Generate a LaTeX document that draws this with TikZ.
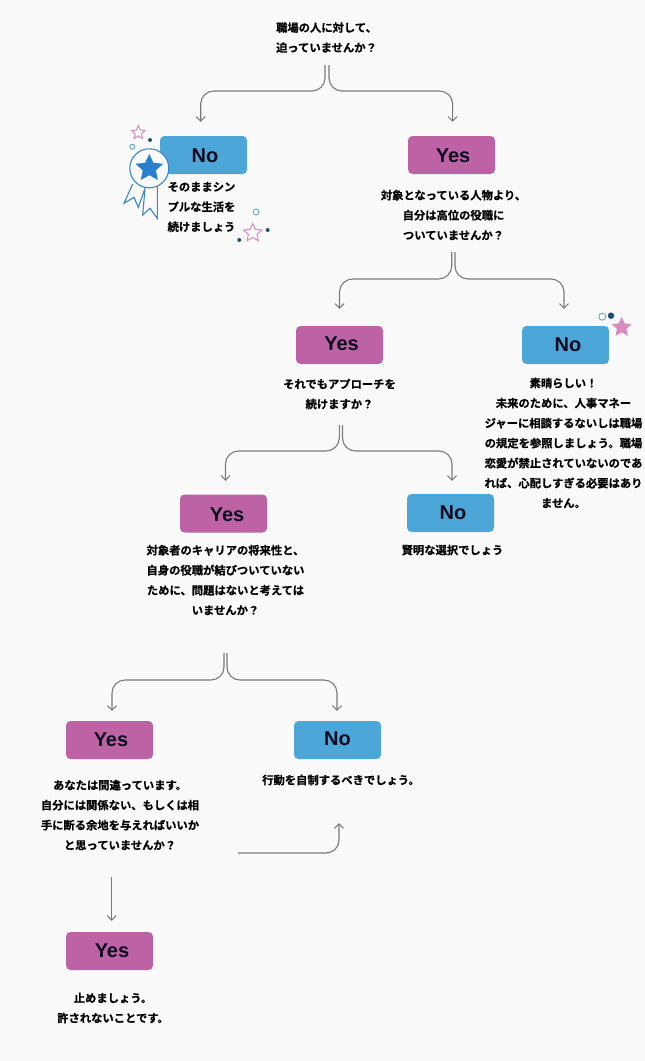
\documentclass[tikz,border=0pt]{standalone}
\usepackage{fontspec}
\setmainfont{Liberation Sans}
\newfontfamily\cjkfont{Noto Sans CJK JP}[BoldFont={Noto Sans CJK JP Bold},BoldFeatures={FakeBold=0.5}]
\usetikzlibrary{arrows.meta,shapes.geometric}
\definecolor{bgcol}{HTML}{FAFAFA}
\definecolor{noblue}{HTML}{4DA6D8}
\definecolor{yespink}{HTML}{BD62A5}
\definecolor{inkdark}{HTML}{0B0B1E}
\definecolor{linegray}{HTML}{7A7A7A}
\definecolor{medalblue}{HTML}{3A86C4}
\definecolor{starblue}{HTML}{2A80CC}
\definecolor{decopink}{HTML}{D98CC0}
\definecolor{dotdark}{HTML}{1F4F72}
\definecolor{ringblue}{HTML}{5FA8CC}
\tikzset{
  x=1pt,y=-1pt,
  answerbox/.style={rectangle,rounded corners=4.5pt,minimum width=87pt,minimum height=38pt,inner sep=0pt},
  nobox/.style={answerbox,fill=noblue},
  yesbox/.style={answerbox,fill=yespink},
  answerlabel/.style={inner sep=0pt,text=inkdark,font=\fontsize{20}{22}\selectfont\bfseries},
  jptext/.style={align=center,inner sep=0pt,text=black,font=\cjkfont\bfseries\fontsize{11.3}{20}\selectfont},
  flow/.style={draw=linegray,line width=1.1pt,rounded corners=13pt,-{Straight Barb[length=4.5pt,width=9pt,line width=1pt]}},
  ribbon/.style={draw=medalblue,line width=1.1pt,line join=miter,fill=bgcol},
  starshape/.style={star,star points=5,star point ratio=2.1,inner sep=0pt,outer sep=0pt},
  ring/.style={circle,draw=ringblue,line width=.9pt,inner sep=0pt},
  dotmark/.style={circle,fill=dotdark,inner sep=0pt,minimum size=4pt},
}
\begin{document}
\begin{tikzpicture}
\useasboundingbox[fill=bgcol] (0,0) rectangle (645,1061);

% answer boxes
\node[nobox]  (no1)  at (203.5,155) {};
\node[yesbox] (yes1) at (451.5,155) {};
\node[yesbox] (yes2) at (339.5,345) {};
\node[nobox]  (no2)  at (565.5,345) {};
\node[yesbox] (yes3) at (223.5,513.5) {};
\node[nobox]  (no3)  at (450.5,513) {};
\node[yesbox] (yes4) at (109.5,740) {};
\node[nobox]  (no4)  at (337.5,740) {};
\node[yesbox] (yes5) at (109.5,951) {};

% box labels
\node[answerlabel] (lno1)  at (205,156) {No};
\node[answerlabel] (lyes1) at (453,156) {Yes};
\node[answerlabel] (lyes2) at (341.5,344) {Yes};
\node[answerlabel] (lno2)  at (568,345) {No};
\node[answerlabel] (lyes3) at (227,515) {Yes};
\node[answerlabel] (lno3)  at (453,513) {No};
\node[answerlabel] (lyes4) at (111,740) {Yes};
\node[answerlabel] (lno4)  at (337.5,739) {No};
\node[answerlabel] (lyes5) at (112,951) {Yes};

% texts
\node[jptext] (q1) at (326.5,37.5) {職場の人に対して、\\迫っていませんか？};
\node[jptext] (t1) at (201.5,207) {そのままシン\\プルな生活を\\続けましょう};
\node[jptext] (q2) at (453.5,215) {対象となっている人物より、\\自分は高位の役職に\\ついていませんか？};
\node[jptext] (q3) at (339.5,394) {それでもアプローチを\\続けますか？};
\node[jptext] (t2) at (563.5,443) {素晴らしい！\\未来のために、人事マネー\\ジャーに相談するないしは職場\\の規定を参照しましょう。職場\\恋愛が禁止されていないのであ\\れば、心配しすぎる必要はあり\\ません。};
\node[jptext] (q4) at (225.5,580) {対象者のキャリアの将来性と、\\自身の役職が結びついていない\\ために、問題はないと考えては\\いませんか？};
\node[jptext] (t3) at (452.5,550) {賢明な選択でしょう};
\node[jptext] (q5) at (120,815) {あなたは間違っています。\\自分には関係ない、もしくは相\\手に断る余地を与えればいいか\\と思っていませんか？};
\node[jptext] (t4) at (341,780) {行動を自制するべきでしょう。};
\node[jptext] (t5) at (113,1008) {止めましょう。\\許されないことです。};

% connector start points
\coordinate (s1l) at (325,65);
\coordinate (s1r) at (329,65);
\coordinate (s2l) at (451.7,252);
\coordinate (s2r) at (455,252);
\coordinate (s3l) at (339.3,425);
\coordinate (s3r) at (342.5,425);
\coordinate (s4l) at (224,653);
\coordinate (s4r) at (227,653);
\coordinate (s5) at (111.7,877);
\coordinate (s6) at (238,853);

% connectors
\draw[flow,shorten >=14pt] (s1l) -- ++(0,26) -| ([xshift=-2.8pt]no1.north);
\draw[flow,shorten >=14pt] (s1r) -- ++(0,26) -| ([xshift=1.1pt]yes1.north);
\draw[flow,shorten >=17pt] (s2l) -- ++(0,27) -| (yes2.north);
\draw[flow,shorten >=17pt] (s2r) -- ++(0,27) -| ([xshift=-1.5pt]no2.north);
\draw[flow,shorten >=13.5pt] (s3l) -- ++(0,26) -| ([xshift=2pt]yes3.north);
\draw[flow,shorten >=13pt] (s3r) -- ++(0,26) -| ([xshift=1.5pt]no3.north);
\draw[flow,shorten >=10pt] (s4l) -- ++(0,27) -| ([xshift=2.5pt]yes4.north);
\draw[flow,shorten >=10pt] (s4r) -- ++(0,27) -| ([xshift=-.5pt]no4.north);
\draw[flow,shorten >=11pt] (s5) -- (s5 |- yes5.north);
\draw[flow,shorten >=64pt] (s6) -| ([xshift=1.5pt]no4.south);

% medal
\draw[ribbon] (132.7,184) -- (124,203.3) -- (134,197.3) -- (138.3,207.3) -- (145,188.3);
\draw[ribbon] (145,188.3) -- (142.7,215) -- (150,208.3) -- (157.3,218.3) -- (157.3,186.7);
\node[circle,draw=medalblue,fill=bgcol,line width=1.1pt,minimum size=39pt,inner sep=0pt] (medal) at (149.3,168.3) {};
\node[starshape,fill=starblue,minimum size=29pt] (medalstar) at (medal) {};

% decorations, left medal
\node[starshape,draw=decopink,line width=1pt,minimum size=14pt] (d1) at (138.3,132.7) {};
\node[dotmark] (d2) at (150,140) {};
\node[ring,minimum size=5pt] (d3) at (132.3,146.7) {};
\node[ring,minimum size=6pt] (d4) at (256,212) {};
\node[starshape,draw=decopink,line width=1pt,minimum size=19pt] (d5) at (252.7,233) {};
\node[dotmark] (d6) at (267.7,230) {};
\node[dotmark] (d7) at (239.3,240) {};

% decorations, upper right
\node[ring,minimum size=7pt] (d8) at (602.3,316.7) {};
\node[dotmark,minimum size=6.5pt] (d9) at (611,315.7) {};
\node[starshape,fill=decopink,minimum size=21pt] (d10) at (621.7,327.3) {};
\end{tikzpicture}
\end{document}
